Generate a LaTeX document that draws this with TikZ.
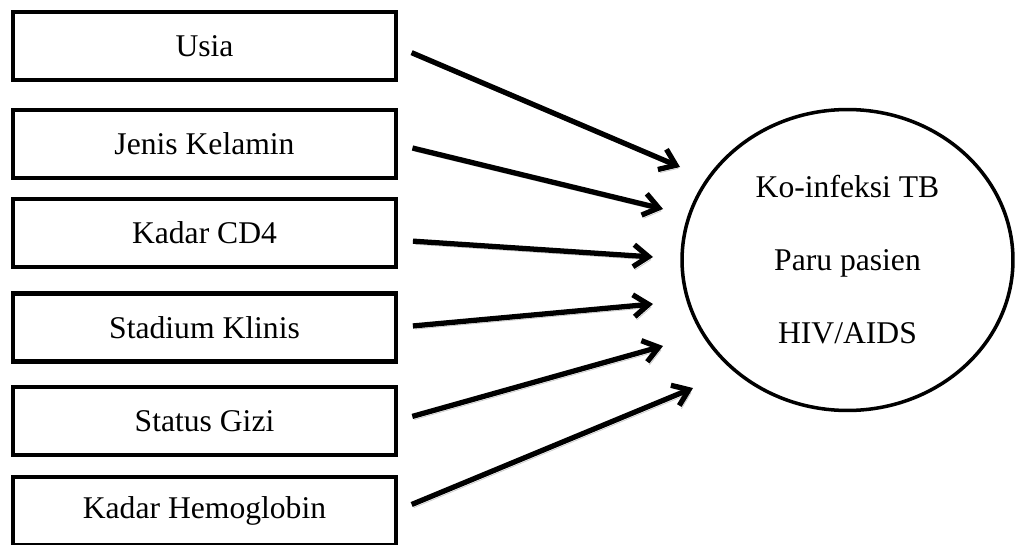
\documentclass[tikz,border=0pt]{standalone}
\usepackage{fontspec}
\setmainfont{Liberation Serif}
\usetikzlibrary{arrows.meta,shapes.geometric}
\tikzset{
  kotak/.style={draw, line width=2.4pt, minimum width=7.66cm, minimum height=1.36cm,
    inner sep=0pt, outer sep=0pt, font=\fontsize{18}{22}\selectfont},
  panah/.style={line width=3pt, -{Straight Barb[length=8.5pt,width=12.5pt]},
    shorten <=0.34cm,
    preaction={draw=black!22, transform canvas={shift={(1.2pt,-1.8pt)}}}}
}
\begin{document}
\begin{tikzpicture}[x=0.02cm,y=-0.02cm]
    \useasboundingbox (0,0) rectangle (1016,544);
    % variabel bebas
    \node[kotak] (usia) at (204.5,46) {Usia};
    \node[kotak] (jk) at (204.5,144) {Jenis Kelamin};
    \node[kotak] (cd) at (204.5,233) {Kadar CD4};
    \node[kotak] (stad) at (204.5,327.5) {Stadium Klinis};
    \node[kotak] (gizi) at (204.5,421) {Status Gizi};
    \node[kotak] (hb) at (204.5,511) {Kadar Hemoglobin};
    % variabel terikat
    \node[ellipse, draw, line width=2pt, minimum width=6.62cm, minimum height=6.02cm,
      inner sep=0pt, align=center, font=\fontsize{18}{41.5}\selectfont]
      (tb) at (847.5,260) {Ko-infeksi TB\\Paru pasien\\HIV/AIDS};
    \coordinate (t1) at (680,167);
    \coordinate (t2) at (663,209);
    \coordinate (t3) at (653,257);
    \coordinate (t4) at (653,304);
    \coordinate (t5) at (663,346);
    \coordinate (t6) at (693,388);
    \draw[panah] (usia.east) -- (t1);
    \draw[panah] (jk.east) -- (t2);
    \draw[panah] ([yshift=-4pt]cd.east) -- (t3);
    \draw[panah] (stad.east) -- (t4);
    \draw[panah] (gizi.east) -- (t5);
    \draw[panah] (hb.east) -- (t6);
\end{tikzpicture}
\end{document}
